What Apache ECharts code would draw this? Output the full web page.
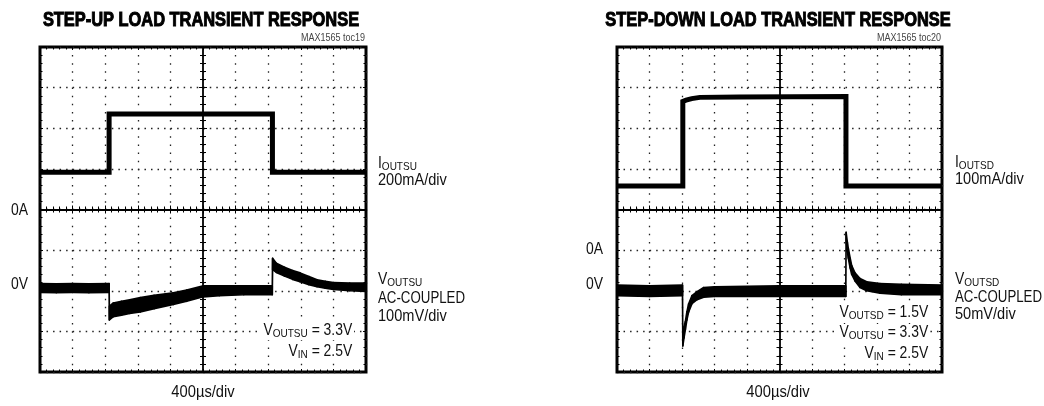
<!DOCTYPE html>
<html>
<head>
<meta charset="utf-8">
<script src="https://cdn.jsdelivr.net/npm/echarts@6/dist/echarts.min.js"></script>
<style>
  html, body { margin: 0; padding: 0; background: #fff; }
  #chart { width: 1044px; height: 406px; }
</style>
</head>
<body>
<div id="chart"></div>
<script>
// ---------- DATA (time in µs, current in mA, voltage in mV) ----------
const titles = ['STEP-UP LOAD TRANSIENT RESPONSE', 'STEP-DOWN LOAD TRANSIENT RESPONSE'];
const tocLabels = ['MAX1565 toc19', 'MAX1565 toc20'];
const timeLabel = '400\u00b5s/div';

// Left panel (step-up converter): current trace, and voltage trace as [t, low edge, high edge] of the noisy band
const iOutSU = [[0,184],[848,184],[848,470],[2852,470],[2852,184],[4000,184]];
const vOutSU = [[0,-4,18],[200,-5,17],[400,-4,18],[600,-5,17],[848,-4,18],
  [851,-72,-38],[900,-64,-30],[1000,-60,-26],[1100,-56,-22],[1231,-52,-17],[1400,-44,-11],
  [1636,-34,-5],[1800,-26,2],[2003,-15,12],[2200,-12,12],[2500,-10,12],[2850,-10,12],
  [2854,52,80],[2900,45,68],[3000,36,58],[3100,28,50],[3191,22,44],[3300,15,35],[3400,10,27],
  [3500,6,23],[3600,3,20],[3800,0,19],[4000,-2,19]];

// Right panel (step-down converter)
const iOutSD = [[0,158],[810,158],[810,366],[850,369],[920,373],[1020,376],[1500,377],[2818,378],[2818,158],[4000,158]];
const vOutSD = [[0,-6,7],[400,-7,6],[806,-6,7],
  [810,-68,-58],[825,-58,-44],[841,-48,-38],[860,-36,-26],[882,-26,-16],[923,-16,-6],[985,-11,-1],
  [1067,-8,4],[1200,-7,5],[2000,-7,6],[2816,-7,6],
  [2820,62,72],[2835,48,60],[2847,40,52],[2870,28,40],[2889,20,31],[2929,12,22],[2991,4,15],
  [3073,0,11],[3237,-3,9],[3500,-5,8],[4000,-5,7]];

// Axis scales
const leftI = {min:-800, max:800};   // 200mA/div, 0A at centre
const leftV = {min:-200, max:600};   // 100mV/div
const rightI = {min:-300, max:500};  // 100mA/div
const rightV = {min:-100, max:300};  // 50mV/div

// ---------- STYLE ----------
const FONT = "'Liberation Sans', Arial, sans-serif";
const dotH = {color:'#222', width:1.3, type:[1.5,5.03]};
const dotV = {color:'#222', width:1.3, type:[1.5,6.62]};

const chart = echarts.init(document.getElementById('chart'), null, {renderer:'canvas'});

const grids = [
  {left:40, top:47, width:326, height:325},
  {left:617, top:47, width:325, height:325}
];

const tickStyle = {color:'#000', width:1};
function panelXAxes(g, yOffset) {
  return [
    {gridIndex:g, type:'value', min:0, max:4000, interval:400, position:'bottom',
     axisLine:{show:false, onZero:false}, axisLabel:{show:false},
     axisTick:{show:true, inside:true, length:3, lineStyle:tickStyle},
     minorTick:{show:true, splitNumber:5, length:2.5, lineStyle:tickStyle},
     splitLine:{show:true, lineStyle:dotV}},
    {gridIndex:g, type:'value', min:0, max:4000, interval:400, position:'top',
     axisLine:{show:false, onZero:false}, axisLabel:{show:false},
     axisTick:{show:true, inside:true, length:3, lineStyle:tickStyle},
     minorTick:{show:true, splitNumber:5, length:2.5, lineStyle:tickStyle},
     splitLine:{show:false}},
    {gridIndex:g, type:'value', min:-5, max:5, interval:1, position:'bottom',
     axisLine:{show:true, onZero:true, onZeroAxisIndex:yOffset+2, lineStyle:{color:'#000', width:1.8}},
     axisLabel:{show:false},
     axisTick:{show:true, inside:true, length:4, lineStyle:tickStyle},
     minorTick:{show:true, splitNumber:5, length:3, lineStyle:tickStyle},
     splitLine:{show:false}},
    {gridIndex:g, type:'value', min:-5, max:5, interval:1, position:'bottom',
     axisLine:{show:false, onZero:true, onZeroAxisIndex:yOffset+2}, axisLabel:{show:false},
     axisTick:{show:true, inside:false, length:4, lineStyle:tickStyle},
     minorTick:{show:true, splitNumber:5, length:3, lineStyle:tickStyle},
     splitLine:{show:false}}
  ];
}
function panelYAxes(g, xOffset, iScale, vScale) {
  return [
    {gridIndex:g, type:'value', show:false, min:iScale.min, max:iScale.max, axisLine:{onZero:false}, splitLine:{show:false}},
    {gridIndex:g, type:'value', show:false, min:vScale.min, max:vScale.max, axisLine:{onZero:false}, splitLine:{show:false}},
    {gridIndex:g, type:'value', min:-4, max:4, interval:1, position:'left',
     axisLine:{show:false, onZero:false}, axisLabel:{show:false},
     axisTick:{show:true, inside:true, length:3, lineStyle:tickStyle},
     minorTick:{show:true, splitNumber:5, length:2.5, lineStyle:tickStyle},
     splitLine:{show:true, lineStyle:dotH}},
    {gridIndex:g, type:'value', min:-4, max:4, interval:1, position:'right',
     axisLine:{show:false, onZero:false}, axisLabel:{show:false},
     axisTick:{show:true, inside:true, length:3, lineStyle:tickStyle},
     minorTick:{show:true, splitNumber:5, length:2.5, lineStyle:tickStyle},
     splitLine:{show:false}},
    {gridIndex:g, type:'value', min:-4, max:4, interval:1, position:'left',
     axisLine:{show:true, onZero:true, onZeroAxisIndex:xOffset+2, lineStyle:{color:'#000', width:1.8}},
     axisLabel:{show:false},
     axisTick:{show:true, inside:true, length:4, lineStyle:tickStyle},
     minorTick:{show:true, splitNumber:5, length:3, lineStyle:tickStyle},
     splitLine:{show:false}},
    {gridIndex:g, type:'value', min:-4, max:4, interval:1, position:'left',
     axisLine:{show:false, onZero:true, onZeroAxisIndex:xOffset+2}, axisLabel:{show:false},
     axisTick:{show:true, inside:false, length:4, lineStyle:tickStyle},
     minorTick:{show:true, splitNumber:5, length:3, lineStyle:tickStyle},
     splitLine:{show:false}}
  ];
}

const xAxes = panelXAxes(0, 0).concat(panelXAxes(1, 6));
const yAxes = panelYAxes(0, 0, leftI, leftV).concat(panelYAxes(1, 4, rightI, rightV));

function lineTrace(data, xi, yi, w) {
  return {type:'line', data:data, xAxisIndex:xi, yAxisIndex:yi, showSymbol:false, symbol:'none',
    lineStyle:{color:'#000', width:w, join:'miter'}, z:3, silent:true, animation:false};
}
// noisy band drawn as polygons between successive [t, low, high] samples, through the axes' scales
function bandTrace(data, xi, yi) {
  return {type:'custom', data:data, xAxisIndex:xi, yAxisIndex:yi, encode:{x:0, y:[1,2]},
    z:3, silent:true, animation:false,
    renderItem: function (params, api) {
      const i = params.dataIndex;
      if (i >= data.length - 1) return null;
      const a = data[i], b = data[i + 1];
      const pts = [api.coord([a[0], a[2]]), api.coord([b[0], b[2]]),
                   api.coord([b[0], b[1]]), api.coord([a[0], a[1]])];
      return {type:'polygon', shape:{points:pts},
        style:{fill:'#000', stroke:'#000', lineWidth:1.6, lineJoin:'round'}};
    }};
}

const series = [
  lineTrace(iOutSU, 0, 0, 5),
  bandTrace(vOutSU, 0, 1),
  lineTrace(iOutSD, 4, 6, 5),
  bandTrace(vOutSD, 4, 7)
];

// ---------- TEXT ----------
const rich = {
  m:{fontSize:16, fontFamily:FONT, fill:'#111'},
  s:{fontSize:11.5, fontFamily:FONT, fill:'#111', padding:[6,0,0,0]}
};
const SX = 0.87;
function txt(x, y, text, align, extra, sx) {
  return {type:'text', x:x, y:y, z:100, scaleX:(sx || SX),
    style:Object.assign({text:text, fontSize:16, fontFamily:FONT, fill:'#111',
      align:align||'left', verticalAlign:'middle', rich:rich}, extra||{})};
}
const bgStyle = {backgroundColor:'#fff', padding:[0,2,0,4]};
const titleStyle = {fontSize:20, fontWeight:'bold', fill:'#000', stroke:'#000', lineWidth:1};
const graphic = [
  txt(201, 20, titles[0], 'center', titleStyle, 0.82),
  txt(778, 20, titles[1], 'center', titleStyle, 0.82),
  txt(365, 38, tocLabels[0], 'right', {fontSize:10, fill:'#444'}, 0.9),
  txt(941, 38, tocLabels[1], 'right', {fontSize:10, fill:'#444'}, 0.9),
  txt(28, 211, '0A', 'right'),
  txt(28, 285, '0V', 'right'),
  txt(603, 250, '0A', 'right'),
  txt(603, 285, '0V', 'right'),
  txt(378, 164, '{m|I}{s|OUTSU}'),
  txt(378, 181, '200mA/div', 'left', null, 0.91),
  txt(378, 280, '{m|V}{s|OUTSU}'),
  txt(378, 299, 'AC-COUPLED', 'left', null, 0.83),
  txt(378, 317, '100mV/div', 'left', null, 0.91),
  txt(955, 163, '{m|I}{s|OUTSD}'),
  txt(955, 180, '100mA/div', 'left', null, 0.91),
  txt(955, 280, '{m|V}{s|OUTSD}'),
  txt(955, 298, 'AC-COUPLED', 'left', null, 0.83),
  txt(955, 315, '50mV/div', 'left', null, 0.91),
  txt(203, 393, timeLabel, 'center', null, 0.92),
  txt(778, 393, timeLabel, 'center', null, 0.92),
  txt(354, 331, '{m|V}{s|OUTSU}{m| = 3.3V}', 'right', bgStyle),
  txt(354, 352, '{m|V}{s|IN}{m| = 2.5V}', 'right', bgStyle),
  txt(930, 313, '{m|V}{s|OUTSD}{m| = 1.5V}', 'right', bgStyle),
  txt(930, 333, '{m|V}{s|OUTSU}{m| = 3.3V}', 'right', bgStyle),
  txt(930, 354, '{m|V}{s|IN}{m| = 2.5V}', 'right', bgStyle)
];

chart.setOption({
  animation:false,
  backgroundColor:'#fff',
  grid: grids.map(g => Object.assign({show:true, borderColor:'#000', borderWidth:3, backgroundColor:'#fff',
     containLabel:false, outerBoundsMode:'none'}, g)),
  xAxis: xAxes,
  yAxis: yAxes,
  series: series,
  graphic: graphic
});
</script>
</body>
</html>
